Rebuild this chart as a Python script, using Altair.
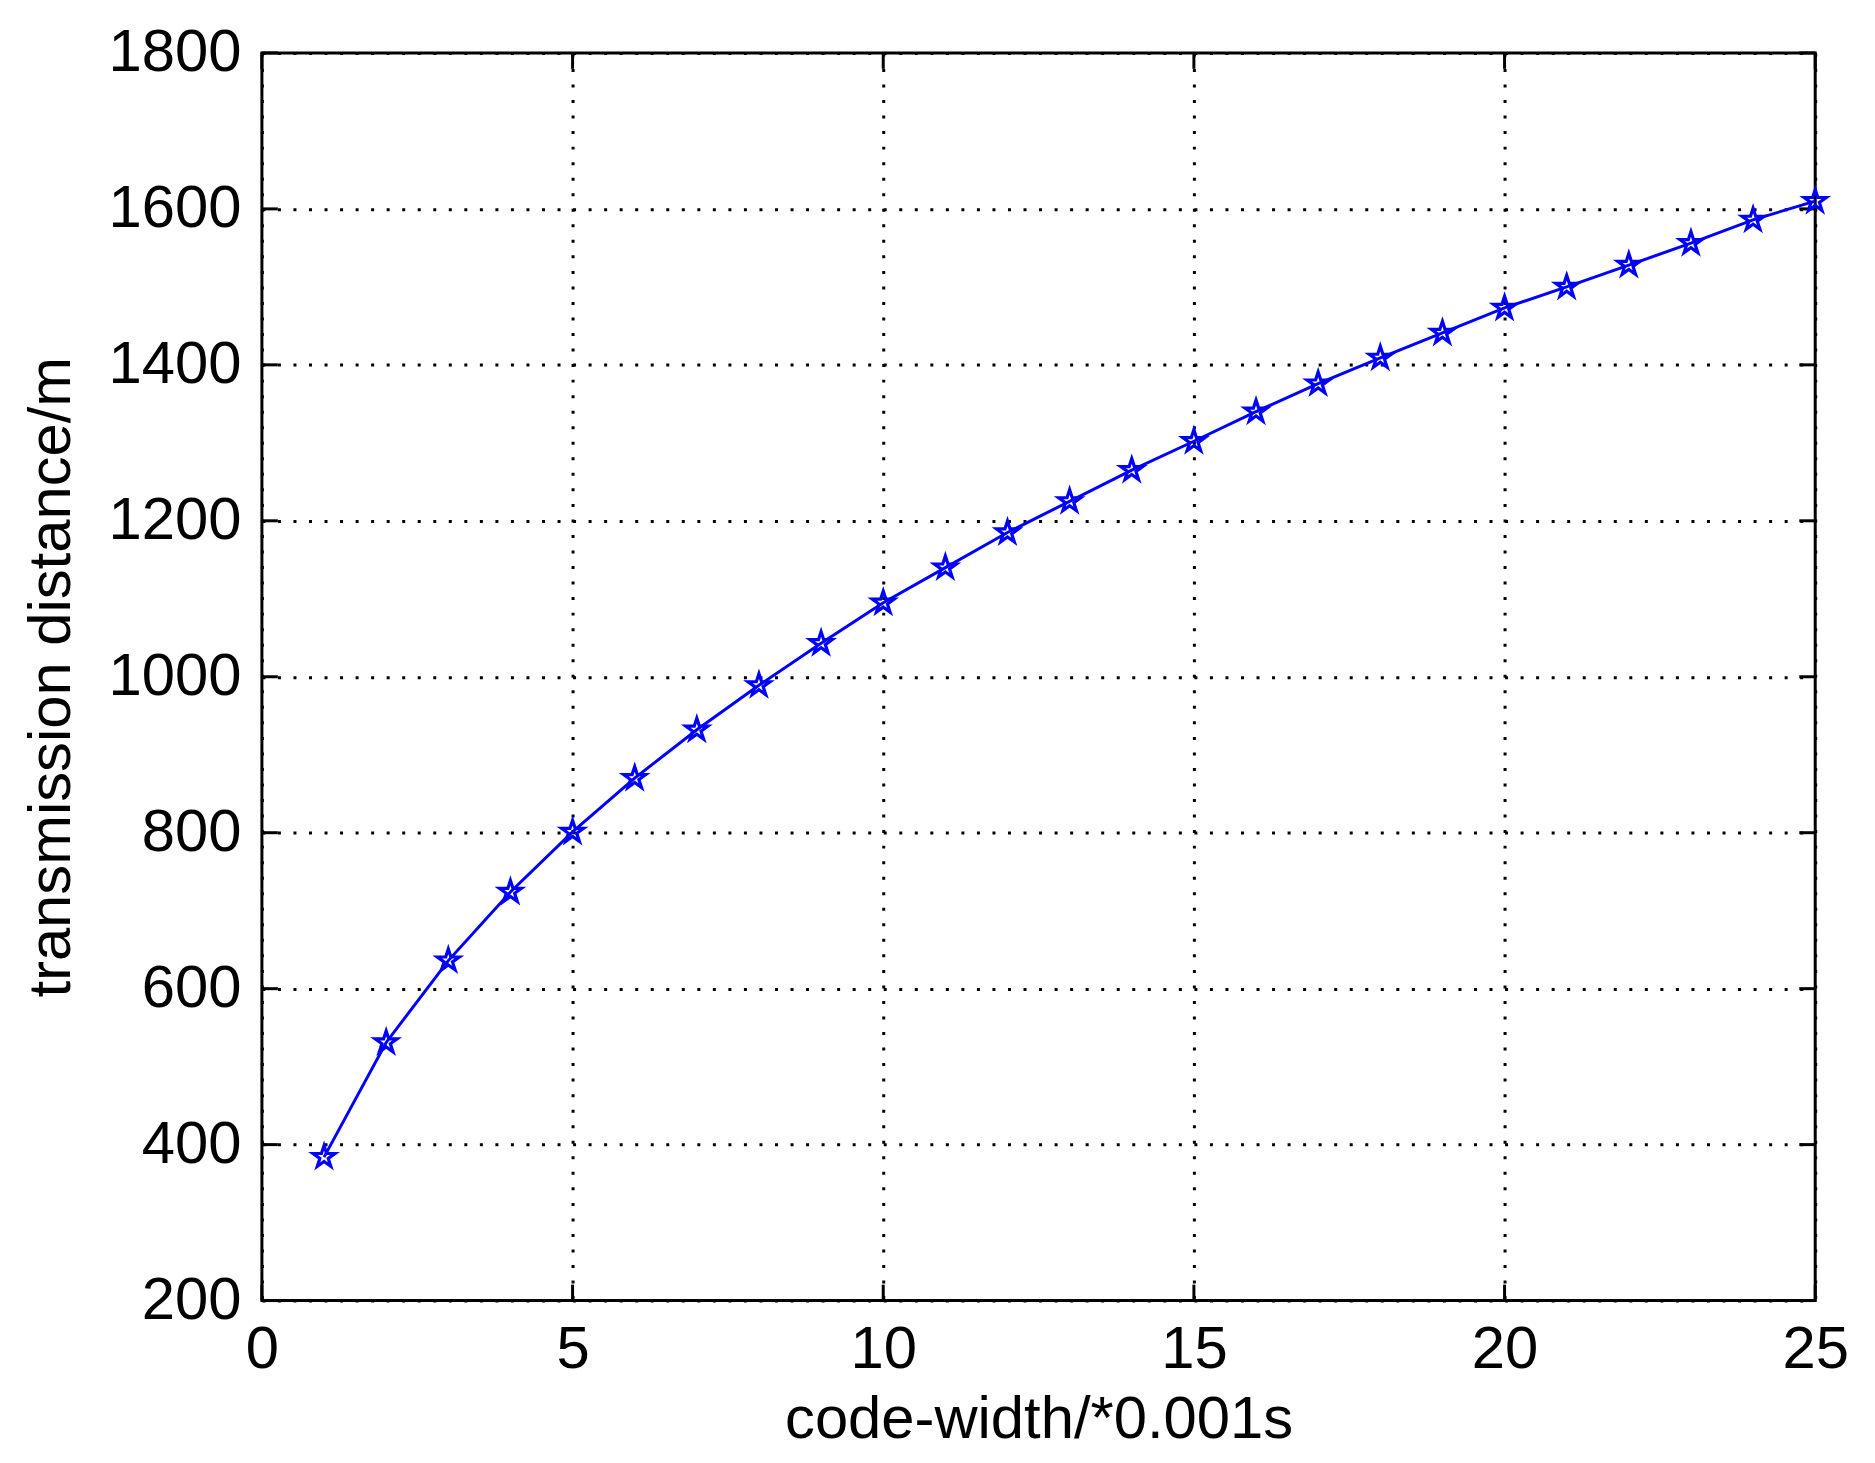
import altair as alt
import pandas as pd

# Data
code_width = list(range(1, 26))
distance = [384, 531, 636, 724, 801, 870, 932, 989, 1043, 1095,
            1140, 1185, 1225, 1265, 1302, 1340, 1376, 1409, 1441, 1473,
            1500, 1528, 1556, 1586, 1610]
x_ticks = [0, 5, 10, 15, 20, 25]
y_ticks = [200, 400, 600, 800, 1000, 1200, 1400, 1600, 1800]

df = pd.DataFrame({"w": code_width, "dist": distance})
df_xt = pd.DataFrame({"w": x_ticks})
df_yt = pd.DataFrame({"dist": y_ticks})

W, H = 1560, 1253
FONT = "Liberation Sans, Arial, Helvetica, sans-serif"
TICK_LEN = 16

x_scale = alt.Scale(domain=[0, 25], nice=False, zero=False)
y_scale = alt.Scale(domain=[200, 1800], nice=False, zero=False)

x_axis = alt.Axis(
    values=x_ticks, format="d", title="code-width/*0.001s", grid=True, ticks=False,
    tickSize=0, domain=False, labelPadding=20, titlePadding=12,
    labelFontSize=60, titleFontSize=60, labelFont=FONT, titleFont=FONT,
    labelColor="black", titleColor="black", titleFontWeight="normal",
    gridColor="black", gridDash=[3, 12.6], gridWidth=3, gridOpacity=1,
    labelFlush=False, labelOverlap=False,
)
y_axis = alt.Axis(
    values=y_ticks, format="d", title="transmission distance/m", grid=True, ticks=False,
    tickSize=0, domain=False, labelPadding=21, titlePadding=26,
    labelFontSize=60, titleFontSize=60, labelFont=FONT, titleFont=FONT,
    labelColor="black", titleColor="black", titleFontWeight="normal",
    gridColor="black", gridDash=[3, 12.6], gridWidth=3, gridOpacity=1,
    labelFlush=False, labelOverlap=False,
)

X = alt.X("w:Q", scale=x_scale, axis=x_axis)
Y = alt.Y("dist:Q", scale=y_scale, axis=y_axis)

STAR = ("M0,-1L0.225,-0.309L0.951,-0.309L0.363,0.118L0.588,0.809L0,0.382"
        "L-0.588,0.809L-0.363,0.118L-0.951,-0.309L-0.225,-0.309Z")

line = alt.Chart(df).mark_line(color="#0000ff", strokeWidth=3).encode(x=X, y=Y)
points = alt.Chart(df).mark_point(
    shape=STAR, size=540, filled=False, color="#0000ff", strokeWidth=3.2, opacity=1
).encode(x=X, y=Y)

tick_style = dict(color="black", strokeWidth=3)
left_ticks = alt.Chart(df_yt).mark_rule(**tick_style).encode(
    y=Y, x=alt.value(0), x2=alt.value(TICK_LEN))
right_ticks = alt.Chart(df_yt).mark_rule(**tick_style).encode(
    y=Y, x=alt.value(W - TICK_LEN), x2=alt.value(W))
bottom_ticks = alt.Chart(df_xt).mark_rule(**tick_style).encode(
    x=X, y=alt.value(H), y2=alt.value(H - TICK_LEN))
top_ticks = alt.Chart(df_xt).mark_rule(**tick_style).encode(
    x=X, y=alt.value(0), y2=alt.value(TICK_LEN))

chart = alt.layer(
    left_ticks, right_ticks, bottom_ticks, top_ticks, line, points
).properties(
    width=W, height=H,
    autosize=alt.AutoSizeParams(type="none"),
    padding={"left": 255, "top": 42, "right": 52, "bottom": 160},
    background="white",
).configure_view(
    stroke="black", strokeWidth=3
)

chart.save("out.html", embed_options={"renderer": "svg", "actions": False})
